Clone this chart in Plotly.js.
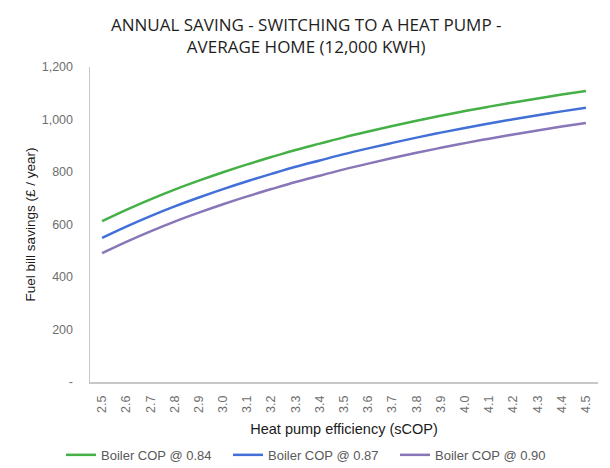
<!DOCTYPE html>
<html>
<head>
<meta charset="utf-8">
<script src="https://cdn.plot.ly/plotly-3.0.1.min.js"></script>
<style>html,body{margin:0;padding:0;background:#fff;}#chart{width:610px;height:468px;}</style>
</head>
<body>
<div id="chart"></div>
<script>
const sCOP = ["2.5","2.6","2.7","2.8","2.9","3.0","3.1","3.2","3.3","3.4","3.5","3.6","3.7","3.8","3.9","4.0","4.1","4.2","4.3","4.4","4.5"];
const boiler084 = [613,656,696,733,767,799,829,857,884,908,932,954,975,995,1014,1032,1049,1065,1080,1095,1109];
const boiler087 = [549,592,632,669,703,735,765,793,820,844,868,890,911,931,950,968,985,1001,1016,1031,1045];
const boiler090 = [491,534,574,611,645,677,707,735,762,786,810,832,853,873,892,910,927,943,958,973,987];
const seriesNames = ["Boiler COP @ 0.84","Boiler COP @ 0.87","Boiler COP @ 0.90"];
const yTickVals = [0,200,400,600,800,1000,1200];
const yTickText = ["-","200","400","600","800","1,000","1,200"];

const colors = ["#44b046","#4270d8","#8876b8"];
const traces = [boiler084, boiler087, boiler090].map((v,i)=>({
  type:"scatter", mode:"lines", x:sCOP, y:v, name:seriesNames[i],
  line:{color:colors[i], width:2.5, shape:"spline"}
}));

const sans = "'Liberation Sans', Arial, sans-serif";
const layout = {
  width:610, height:468,
  margin:{l:90, r:12, t:67, b:86},
  paper_bgcolor:"#fff", plot_bgcolor:"#fff",
  font:{family:sans, color:"#595959"},
  title:{text:"ANNUAL SAVING - SWITCHING TO A HEAT PUMP -<br>AVERAGE HOME (12,000 KWH)",
    font:{family:"'Open Sans', sans-serif", size:17, color:"#1e1e1e"},
    x:0.502, xanchor:"center", y:0.934, yanchor:"top"},
  xaxis:{type:"category", range:[-0.5,20.5], tickangle:-90, showgrid:false, zeroline:false,
    showline:true, linecolor:"#c8c8c8", linewidth:1.5, ticks:"outside", ticklen:7, tickcolor:"rgba(0,0,0,0)",
    tickfont:{family:sans, size:12.5, color:"#6f6f6f"},
    title:{text:"Heat pump efficiency (sCOP)", font:{family:sans, size:14.5, color:"#1a1a1a"}, standoff:12}},
  yaxis:{range:[0,1200], tickvals:yTickVals, ticktext:yTickText, showgrid:false, zeroline:false,
    showline:true, linecolor:"#c8c8c8", linewidth:1.5, ticks:"outside", ticklen:13, tickcolor:"rgba(0,0,0,0)",
    tickfont:{family:sans, size:12.5, color:"#6f6f6f"},
    title:{text:"Fuel bill savings (£ / year)", font:{family:sans, size:13.5, color:"#1a1a1a"}, standoff:3}},
  showlegend:true,
  legend:{orientation:"h", xref:"container", x:0.1, xanchor:"left", yref:"container", y:0.028, yanchor:"middle",
    font:{family:sans, size:13, color:"#595959"}, itemwidth:30, entrywidth:122, entrywidthmode:"pixels", tracegroupgap:0}
};
Plotly.newPlot("chart", traces, layout, {displayModeBar:false, staticPlot:true});
</script>
</body>
</html>
